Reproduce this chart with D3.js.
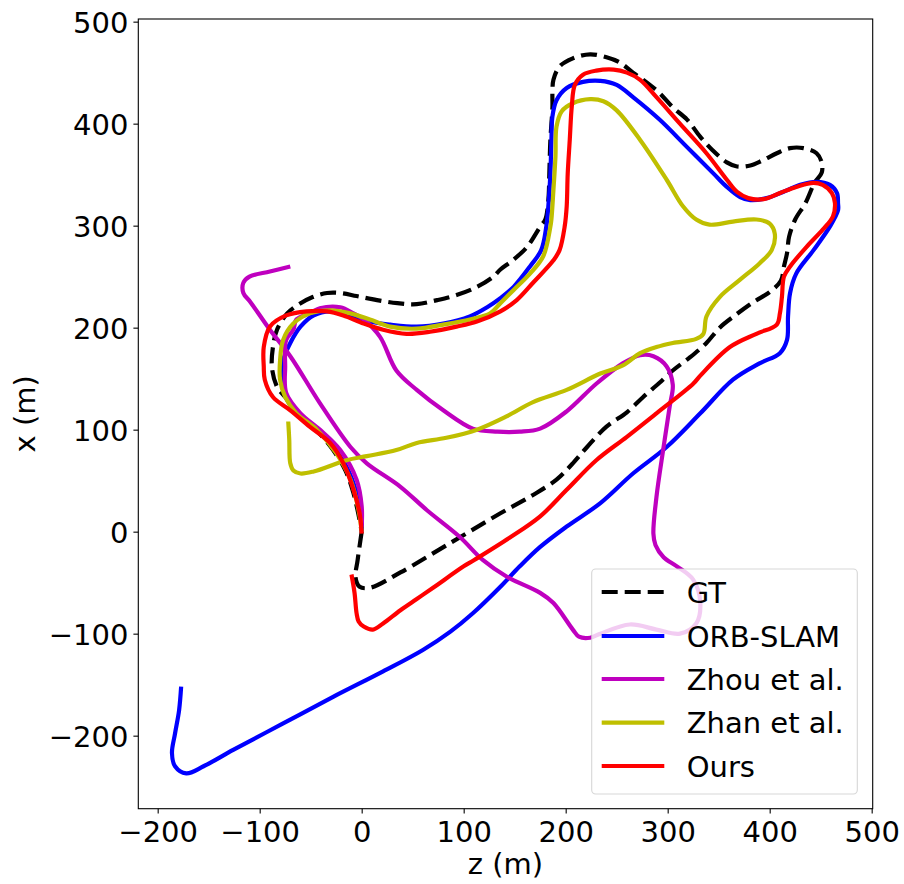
<!DOCTYPE html>
<html><head><meta charset="utf-8">
<script src="https://cdn.jsdelivr.net/npm/d3@7"></script>
<style>body{margin:0;background:#fff}svg{display:block}</style>
</head><body>
<svg id="c" width="904" height="884"></svg>
<script>
// ---- data (z, x) in metres ----
const xTicks = [-200,-100,0,100,200,300,400,500];
const yTicks = [-200,-100,0,100,200,300,400,500];
const seriesNames = ["GT","ORB-SLAM","Zhou et al.","Zhan et al.","Ours"];
const seriesColors = ["#000000","#0000ff","#bf00bf","#bfbf00","#ff0000"];

const gt = [[0,0],[-4,-28],[-6,-45],[-2,-54],[8,-55],[38,-40],[87,-11],[136,18],[168,36],[191,51],[207,67],[221,83],[240,103],[260,117],[276,132],[292,146],[305,158],[322,171],[338,185],[351,200],[366,212],[384,225],[400,235],[411,246],[414,260],[417,273],[419,289],[425,306],[435,322],[444,342],[451,352],[451,362],[446,371],[433,376],[420,376],[407,371],[393,364],[381,359],[368,358],[358,362],[344,374],[332,387],[319,404],[305,416],[292,430],[280,440],[266,450],[253,460],[240,465],[224,468],[207,464],[194,456],[188,443],[187,430],[187,416],[185,384],[184,352],[183,325],[180,306],[175,299],[162,279],[148,266],[136,257],[129,250],[113,240],[93,232],[74,227],[54,223],[35,224],[15,227],[-5,231],[-21,234],[-34,234],[-48,230],[-63,222],[-73,214],[-83,198],[-87,181],[-88,161],[-83,142],[-75,132],[-60,114],[-43,98],[-28,80],[-16,60],[-9,41],[-4,21],[0,0]];

const orbSlam = [[-177,-152],[-179,-175],[-183,-198],[-186,-217],[-183,-230],[-172,-237],[-155,-230],[-126,-214],[-77,-188],[-28,-162],[21,-137],[60,-116],[87,-98],[109,-80],[136,-54],[155,-34],[175,-15],[201,5],[234,28],[266,57],[299,83],[332,116],[364,149],[390,165],[410,175],[417,188],[418,211],[420,234],[426,253],[443,276],[459,299],[467,315],[467,322],[466,332],[459,340],[446,343],[430,340],[413,333],[397,327],[381,325],[371,328],[358,338],[345,351],[319,377],[292,404],[266,426],[250,438],[234,442],[217,441],[201,435],[191,423],[187,407],[186,384],[185,351],[183,319],[181,299],[176,276],[165,260],[149,240],[136,229],[123,220],[106,211],[80,204],[54,201],[28,203],[8,206],[-11,212],[-31,216],[-47,212],[-60,201],[-70,185],[-77,168],[-78,149],[-73,129],[-60,113],[-44,100],[-28,83],[-15,64],[-5,38],[0,11],[0,0]];

const zhou = [[-70,260],[-90,255],[-110,250],[-116,244],[-116,234],[-109,225],[-90,198],[-70,172],[-41,126],[-11,83],[5,67],[38,44],[64,21],[96,-5],[119,-28],[142,-44],[175,-60],[188,-70],[207,-96],[213,-103],[224,-104],[234,-100],[263,-91],[289,-96],[312,-100],[328,-90],[332,-70],[325,-47],[309,-34],[296,-25],[288,-13],[286,-2],[289,34],[296,83],[302,123],[305,144],[299,162],[286,172],[273,173],[256,165],[230,145],[201,118],[175,101],[155,98],[133,98],[109,101],[80,119],[54,139],[34,158],[18,191],[2,208],[-8,214],[-21,220],[-41,219],[-51,214],[-64,208],[-67,198],[-74,188],[-75,162],[-74,136],[-60,116],[-41,100],[-21,80],[-5,51],[0,25],[0,5]];

const zhan = [[-72,108],[-71,90],[-70,67],[-67,60],[-60,57],[-47,59],[-15,70],[5,74],[34,80],[54,87],[83,92],[113,100],[142,113],[168,127],[201,139],[234,155],[256,163],[273,175],[289,181],[305,185],[328,189],[335,194],[338,211],[351,230],[371,247],[390,263],[402,276],[405,292],[400,302],[387,306],[364,304],[341,301],[328,306],[315,319],[299,345],[273,384],[250,413],[237,422],[224,424],[207,420],[196,412],[191,397],[190,368],[188,335],[186,306],[185,299],[178,270],[165,253],[149,237],[136,224],[126,214],[106,208],[80,203],[54,199],[28,201],[8,208],[-11,214],[-31,217],[-51,214],[-67,204],[-77,188],[-80,168],[-80,149],[-75,132],[-64,116],[-44,100],[-25,77],[-11,51],[-3,21],[0,0]];

const ours = [[-10,-42],[-7,-60],[-5,-80],[-3,-88],[2,-93],[11,-96],[21,-90],[38,-77],[54,-66],[70,-55],[100,-34],[110,-28],[145,-6],[175,15],[201,41],[230,70],[260,93],[289,116],[325,145],[332,153],[361,181],[387,194],[407,203],[410,214],[412,230],[414,250],[420,260],[436,279],[452,296],[462,309],[464,322],[461,332],[452,340],[443,342],[426,338],[410,332],[394,326],[379,327],[368,333],[358,345],[338,371],[312,400],[289,426],[273,443],[260,450],[247,453],[230,452],[217,448],[209,438],[206,417],[204,384],[202,351],[201,319],[199,299],[194,276],[188,266],[168,244],[152,227],[136,216],[113,206],[93,201],[67,196],[44,194],[21,198],[2,204],[-18,212],[-34,216],[-54,216],[-74,212],[-90,201],[-96,181],[-96,162],[-95,149],[-87,132],[-70,119],[-51,103],[-31,87],[-18,67],[-8,41],[-2,18],[0,-2]];

const seriesData = [gt, orbSlam, zhou, zhan, ours];

// ---- layout ----
const L = 138.3, R = 872.7, T = 19, B = 808.7;
const FONT = "DejaVu Sans, sans-serif";
const FS = 29;

const xs = d3.scaleLinear().domain([-219, 501]).range([L, R]);
const ys = d3.scaleLinear().domain([-271.6, 502.6]).range([B, T]);

const svg = d3.select("#c");
svg.append("rect").attr("width",904).attr("height",884).attr("fill","#fff");

svg.append("clipPath").attr("id","clip").append("rect")
  .attr("x",L).attr("y",T).attr("width",R-L).attr("height",B-T);

const line = d3.line().x(d=>xs(d[0])).y(d=>ys(d[1])).curve(d3.curveCatmullRom.alpha(0.5));

const plot = svg.append("g").attr("clip-path","url(#clip)");
seriesData.forEach((data,i)=>{
  const p = plot.append("path").attr("d", line(data))
    .attr("fill","none").attr("stroke", seriesColors[i])
    .attr("stroke-width", 4.2).attr("stroke-linejoin","round").attr("stroke-linecap","butt");
  if (i === 0) p.attr("stroke-dasharray","16,7");
});

// axes
const fmt = d => d < 0 ? "\u2212" + Math.abs(d) : String(d);
const xAxis = d3.axisBottom(xs).tickValues(xTicks).tickSize(4.9).tickPadding(7.5).tickFormat(fmt);
const yAxis = d3.axisLeft(ys).tickValues(yTicks).tickSize(4.9).tickPadding(5).tickFormat(fmt);

const gx = svg.append("g").attr("transform",`translate(0,${B})`).call(xAxis);
const gy = svg.append("g").attr("transform",`translate(${L},0)`).call(yAxis);
[gx, gy].forEach(g=>{
  g.select(".domain").remove();
  g.selectAll(".tick line").attr("stroke","#000").attr("stroke-width",1.1);
  g.selectAll("text").attr("font-family",FONT).attr("font-size",FS).attr("fill","#000");
});
gy.selectAll("text").attr("dy","0.37em");

// frame
svg.append("rect").attr("x",L).attr("y",T).attr("width",R-L).attr("height",B-T)
  .attr("fill","none").attr("stroke","#000").attr("stroke-width",1.1);

// axis labels
svg.append("text").attr("x",(L+R)/2).attr("y",874).attr("text-anchor","middle")
  .attr("font-family",FONT).attr("font-size",FS).text("z (m)");
svg.append("text").attr("transform",`translate(35,${(T+B)/2}) rotate(-90)`)
  .attr("text-anchor","middle").attr("font-family",FONT).attr("font-size",FS).text("x (m)");

// legend
const lg = svg.append("g");
lg.append("rect").attr("x",591.7).attr("y",569).attr("width",265.6).attr("height",225)
  .attr("rx",4).attr("fill","#fff").attr("fill-opacity",0.8)
  .attr("stroke","#cccccc").attr("stroke-opacity",0.8).attr("stroke-width",1.1);
const rowY = [592,636,679,722.7,766];
seriesNames.forEach((name,i)=>{
  const l = lg.append("line").attr("x1",601.7).attr("x2",664.3).attr("y1",rowY[i]).attr("y2",rowY[i])
    .attr("stroke",seriesColors[i]).attr("stroke-width",4.2);
  if (i === 0) l.attr("stroke-dasharray","16,7");
  lg.append("text").attr("x",686.7).attr("y",rowY[i]+10.5)
    .attr("font-family",FONT).attr("font-size",FS).attr("fill","#000").text(name);
});
</script>
</body></html>
